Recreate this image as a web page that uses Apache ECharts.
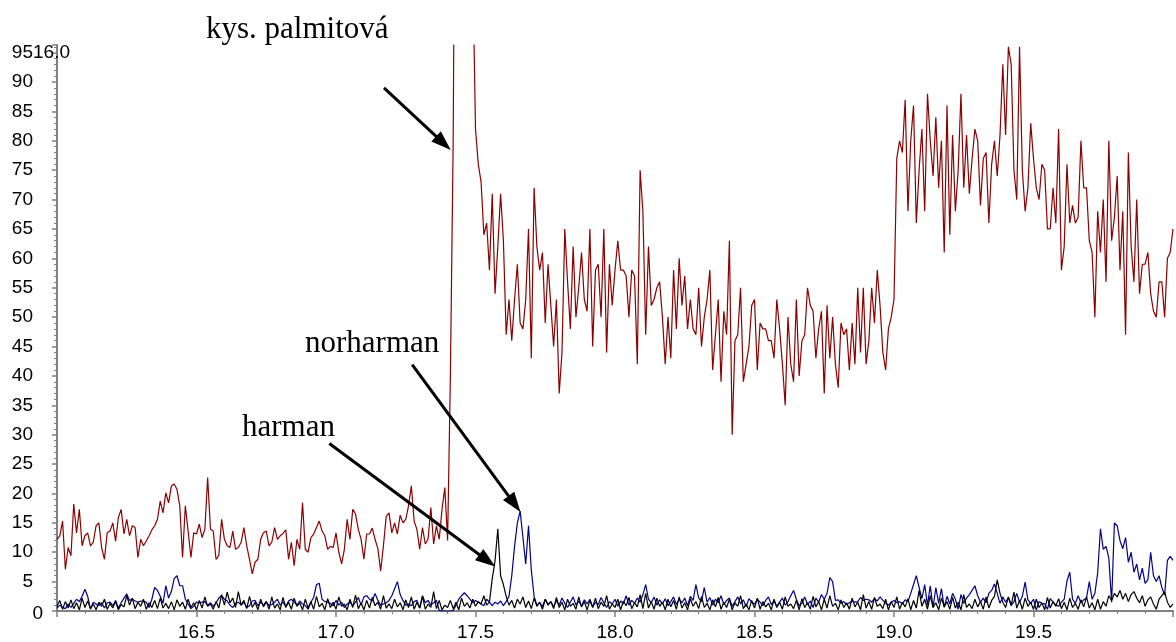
<!DOCTYPE html>
<html>
<head>
<meta charset="utf-8">
<title>chromatogram</title>
<script src="https://cdn.jsdelivr.net/npm/echarts/dist/echarts.min.js"></script>
<style>
  html, body { margin: 0; padding: 0; background: #fff; }
  #chart { width: 1176px; height: 642px; }
</style>
</head>
<body>
<div id="chart"></div>
<script>
// retention time (min) of the first sample and sampling step
const startTime = 16.0;
const stepTime = 0.01;

// kys. palmitova trace (dark red)
const palmitic = [
  12.2,12.8,15.3,7.1,10.8,9.4,18.2,13.3,17.3,11.1,
  12.8,13.3,11.1,11.7,14.5,15.0,10.8,8.8,13.3,13.6,
  15.0,11.9,15.9,17.3,13.1,15.6,12.8,14.5,14.2,9.1,
  12.2,11.1,11.9,12.8,13.8,14.5,15.6,18.7,16.7,20.1,
  18.4,21.3,21.6,20.7,17.9,9.1,17.9,13.6,9.1,13.3,
  13.1,14.8,12.5,13.9,22.7,13.9,13.6,8.8,9.4,15.6,
  12.2,11.1,10.8,13.6,10.5,10.8,11.7,14.2,11.1,8.8,
  6.3,8.3,8.8,12.2,13.3,13.6,11.1,11.7,14.2,12.2,
  12.8,13.2,13.8,8.8,11.7,7.7,12.2,10.5,18.4,10.5,
  10.0,12.5,13.1,14.2,15.3,13.6,12.8,10.5,11.0,10.8,
  13.3,10.0,8.0,10.5,15.6,12.2,17.3,16.5,13.9,12.2,
  8.8,13.1,13.1,14.1,12.2,10.6,6.8,11.1,16.1,16.7,
  13.3,15.0,13.1,16.3,15.0,15.6,17.9,21.3,15.3,13.9,
  10.5,14.2,11.4,12.2,17.6,11.4,14.5,12.2,17.3,21.0,
  12.0,40,80,160,400,700,650,500,300,110,
  82,76,73,64,66,58,71,54,62,71,
  63,47,53,46,53,59,49,48,53,65,
  43,72,62,58,61,49,59,52,45,53,
  37,44,65,56,48,62,50,55,61,53,
  51,65,45,58,59,50,65,44,59,52,
  58,63,58,58,57,50,58,57,42,75,
  68,47,62,52,53,55,56,50,42,50,
  43,58,48,60,52,57,48,53,48,47,
  55,45,50,53,58,41,47,53,39,51,
  47,63,30,46,47,55,39,42,45,52,
  53,41,49,48,48,46,46,43,53,48,
  42,35,50,42,39,53,40,46,47,55,
  52,51,43,48,51,37,52,43,50,42,
  38,49,47,48,41,49,42,55,44,55,
  42,46,55,49,58,52,44,41,48,50,
  53,77,80,78,87,68,80,86,66,75,
  82,68,88,80,74,84,72,80,61,86,
  64,81,68,75,88,72,81,71,77,82,
  80,69,77,78,66,76,80,74,81,93,
  81,96,93,75,70,96,75,68,72,83,
  77,72,70,76,75,65,65,72,66,82,
  58,62,76,66,69,66,67,80,72,72,
  63,61,50,68,61,70,56,80,63,67,
  74,58,68,47,78,62,56,70,54,59,
  59,61,54,51,50,56,56,50,60,61,65
];

// norharman trace (navy)
const norharman = [
  0.5,1.0,0.6,0.4,1.2,0.6,1.3,2.0,1.6,2.5,
  3.7,2.5,0.3,1.5,1.2,0.9,1.4,0.5,1.4,1.5,
  0.9,1.8,0.5,1.4,2.2,2.9,1.8,2.0,1.7,1.5,
  1.7,1.6,1.5,0.6,2.0,4.0,3.5,2.5,1.3,4.3,
  2.2,3.3,5.5,6.0,4.3,4.3,2.0,1.2,0.4,0.8,
  1.5,1.4,1.5,1.6,0.9,1.4,0.8,1.4,2.2,2.6,
  2.0,1.7,1.0,0.6,1.3,1.5,1.0,1.5,0.6,0.9,
  1.7,1.8,0.9,1.5,1.0,1.6,0.9,1.1,1.5,2.0,
  1.0,1.5,0.8,1.7,2.0,1.5,1.0,1.7,1.2,0.9,
  0.3,1.5,2.3,4.5,4.7,2.0,1.6,1.5,1.3,0.9,
  1.8,1.0,1.5,0.6,1.2,1.5,0.9,1.5,2.3,1.0,
  2.4,2.6,2.0,1.7,3.0,1.8,1.0,1.2,1.4,1.8,
  2.6,3.8,5.0,2.8,1.8,1.0,1.2,0.9,1.6,1.8,
  0.5,2.6,1.4,1.8,1.0,1.4,1.8,0.1,0,0,
  0,0,0.1,1.0,2.0,2.6,3.1,2.6,2.0,1.4,
  1.8,1.5,1.2,0.9,2.0,1.5,0.9,1.5,1.2,1.7,
  0.9,1.6,2.5,6,11,15,17,12.5,8,14.5,
  7,2.5,1.0,1.4,0.8,2.0,1.1,1.6,0.7,1.8,
  1.0,2.2,1.3,0.6,1.5,2.4,1.0,1.7,0.8,1.9,
  1.2,2.0,0.7,1.5,1.1,2.3,1.4,0.6,1.6,1.2,
  2.0,0.8,1.7,1.2,2.6,1.0,1.8,1.3,2.2,1.5,
  2.8,4.5,2.0,1.4,2.4,1.0,1.9,1.2,2.1,0.9,
  1.6,2.4,1.1,2.0,1.4,2.2,0.9,2.5,1.8,4.5,
  2.2,1.6,4.0,1.5,2.3,1.0,2.0,1.4,2.6,1.1,
  1.8,2.2,0.8,1.6,2.4,1.2,1.9,0.7,2.1,1.5,
  1.2,2.0,1.5,0.9,1.8,2.4,1.1,1.7,0.8,1.5,
  2.2,1.0,1.6,2.6,3.5,2.0,0.9,1.3,2.4,1.1,
  1.7,0.6,2.2,1.5,2.8,2.0,3.0,5.7,5.0,1.8,
  1.9,1.3,1.6,1.1,1.4,1.7,1.5,1.6,2.3,1.8,
  2.0,1.9,1.5,2.1,1.7,2.4,1.8,1.3,1.0,1.5,
  1.8,1.4,1.6,1.2,1.9,1.6,3.0,4.5,6.0,4.0,
  2.1,4.5,1.0,4.3,0.6,4.0,1.3,3.8,0.6,2.5,
  1.2,3.0,2.0,0.3,2.8,1.3,2.2,2.8,3.5,4.3,
  2.6,1.5,2.2,1.4,3.0,3.5,4.6,3.0,1.3,2.4,
  1.5,2.3,0.9,1.6,3.0,1.5,2.5,4.9,1.9,1.3,
  2.0,0.2,1.6,1.3,1.2,0.3,2.1,1.5,1.0,0.8,
  1.5,2.0,5.1,6.6,2.0,1.3,2.6,1.4,1.9,2.2,
  5.0,2.0,3.0,6.5,14.0,10.5,11.0,9.0,1.5,15.0,
  14.5,12.0,10.6,12.5,8.3,10.0,6.6,8.0,5.3,7.3,
  4.7,5.3,10.0,6.0,5.0,6.0,4.0,2.7,8.6,9.3,8.6
];

// harman trace (black)
const harman = [
  0.8,1.8,0.3,1.6,0.5,1.9,0.4,1.4,0.2,2.2,
  0.6,1.7,0.4,1.2,0.2,1.5,0.8,2.0,0.3,1.3,
  0.5,1.6,0.2,1.1,0.7,2.6,1.0,2.2,0.4,1.5,
  0.8,2.0,0.3,1.4,0.6,1.8,0.4,2.2,0.5,1.3,
  0.4,1.6,0.2,1.9,0.8,1.5,0.3,2.0,0.6,1.4,
  0.2,1.8,0.5,2.4,0.8,1.2,0.3,1.6,0.5,2.8,
  1.0,3.2,1.4,2.2,0.6,3.3,1.0,1.8,0.4,2.5,
  0.6,1.5,0.2,2.0,0.7,1.6,0.3,2.4,0.5,1.2,
  0.2,2.3,0.6,1.5,0.3,2.2,0.8,1.4,0.2,2.0,
  0.5,1.6,0.3,2.5,0.7,1.3,0.2,2.1,0.6,1.5,
  0.3,2.4,0.8,1.2,0.2,2.0,0.6,2.7,0.4,1.4,
  0.2,1.8,0.5,2.3,0.9,1.5,0.3,2.6,0.5,1.2,
  0.4,2.0,0.7,1.4,0.2,1.9,0.6,2.4,0.3,1.5,
  0.5,2.5,0.3,1.2,0.6,3.3,0.4,1.8,0.2,1.0,
  0.6,1.8,0.4,1.5,0.2,2.2,0.8,1.4,0.5,2.0,
  0.8,1.6,1.2,2.6,1.0,1.5,5.5,8.5,14.0,6.0,
  4.5,2.5,1.0,1.8,0.5,2.0,1.2,2.4,0.6,1.7,
  0.4,2.2,0.8,1.5,0.3,2.0,1.0,1.6,0.4,2.3,
  0.6,1.5,0.2,2.0,0.8,1.3,0.3,2.4,0.7,1.6,
  0.2,1.8,0.6,2.2,0.4,1.5,0.8,2.6,0.3,1.2,
  0.6,2.0,0.2,1.7,0.9,2.3,0.4,1.4,0.7,2.8,
  0.4,3.0,0.5,1.6,0.3,2.2,0.8,1.5,0.2,2.0,
  0.7,1.8,0.3,2.4,0.5,1.4,0.2,2.1,0.8,1.6,
  0.4,2.5,0.6,1.3,0.2,1.9,0.7,2.3,0.3,1.5,
  0.6,2.0,0.2,1.4,0.8,2.6,0.4,1.2,0.2,1.8,
  0.5,2.2,0.3,1.6,0.7,1.3,0.2,2.0,0.6,1.5,
  0.3,2.4,0.8,1.2,0.4,1.8,0.2,2.1,0.6,1.4,
  0.3,2.5,0.7,1.6,0.2,2.0,0.5,2.6,0.8,1.3,
  0.2,1.9,0.6,1.4,0.3,2.2,0.7,1.5,0.2,2.8,
  0.5,1.6,0.3,2.3,0.8,1.2,0.4,2.0,0.2,1.6,
  0.6,2.4,0.3,1.5,0.7,2.1,0.2,1.8,0.5,3.5,
  0.8,2.0,0.3,2.6,0.6,1.4,0.2,2.2,0.7,1.6,
  0.3,2.3,0.5,1.5,0.2,2.8,0.6,1.2,0.4,2.0,
  0.7,1.6,0.3,2.4,0.5,1.8,2.5,5.3,3.0,1.5,
  0.6,2.4,1.0,3.2,0.5,1.8,0.3,2.2,0.8,1.5,
  0.3,2.0,0.6,1.4,0.2,2.3,0.5,1.6,0.8,2.1,
  0.4,1.5,0.2,2.2,0.6,1.3,0.3,1.9,0.7,2.4,
  0.5,1.4,0.2,2.0,0.3,1.6,0.8,2.6,1.8,3.0,
  2.4,3.5,2.0,3.0,1.6,2.8,3.3,2.2,1.4,2.6,
  0.8,1.9,2.4,1.2,0.3,2.0,2.6,3.2,1.5,0.6,1.2
];

// annotation arrows: [startTime, startValue, endTime, endValue]
const arrows = [
  [17.172, 89.0, 17.385, 79.6],
  [17.273, 41.9, 17.640, 18.2],
  [16.976, 28.5, 17.542, 8.6]
];

function toPairs(values) {
  return values.map((v, i) => [+(startTime + i * stepTime).toFixed(2), v]);
}

const chart = echarts.init(document.getElementById('chart'));
const axisGrey = '#808080';
const sans = '"Liberation Sans", Arial, sans-serif';
const serif = '"Liberation Serif", "Times New Roman", serif';

chart.setOption({
  animation: false,
  backgroundColor: '#ffffff',
  grid: { left: 57, right: 0, top: 45, bottom: 30 },
  xAxis: {
    type: 'value',
    min: 16,
    max: 20,
    interval: 0.5,
    axisLine: { show: true, onZero: false, lineStyle: { color: axisGrey, width: 2 } },
    axisTick: { show: true, length: 6, lineStyle: { color: axisGrey, width: 1.5 } },
    minorTick: { show: true, splitNumber: 5, length: 3, lineStyle: { color: axisGrey, width: 1 } },
    splitLine: { show: false },
    minorSplitLine: { show: false },
    axisLabel: {
      color: '#000',
      fontFamily: sans,
      fontSize: 19,
      margin: 12,
      formatter: function (v) {
        const r = Math.round(v * 10) / 10;
        return (r > 16 && r < 20) ? r.toFixed(1) : '';
      }
    }
  },
  yAxis: {
    type: 'value',
    min: 0,
    max: 96.3,
    interval: 5,
    axisLine: { show: true, lineStyle: { color: axisGrey, width: 2 } },
    axisTick: { show: true, length: 5, lineStyle: { color: axisGrey, width: 1.5 } },
    minorTick: { show: true, splitNumber: 5, length: 3, lineStyle: { color: axisGrey, width: 1 } },
    splitLine: { show: false },
    minorSplitLine: { show: false },
    axisLabel: {
      color: '#000',
      fontFamily: sans,
      fontSize: 19,
      margin: 24,
      formatter: function (v) {
        const r = Math.round(v);
        return (r > 0 && Math.abs(v - r) < 1e-6 && r % 5 === 0) ? String(r) : '';
      }
    }
  },
  series: [
    {
      name: 'kys. palmitová',
      type: 'line',
      data: toPairs(palmitic),
      showSymbol: false,
      symbol: 'none',
      clip: true,
      lineStyle: { color: '#8b0000', width: 1.2 }
    },
    {
      name: 'norharman',
      type: 'line',
      data: toPairs(norharman),
      showSymbol: false,
      symbol: 'none',
      clip: true,
      lineStyle: { color: '#00008b', width: 1.2 }
    },
    {
      name: 'harman',
      type: 'line',
      data: toPairs(harman),
      showSymbol: false,
      symbol: 'none',
      clip: true,
      lineStyle: { color: '#000000', width: 1.2 },
      markLine: {
        silent: true,
        animation: false,
        symbol: ['none', 'triangle'],
        symbolSize: 16,
        label: { show: false },
        lineStyle: { color: '#000', width: 3, type: 'solid' },
        itemStyle: { color: '#000' },
        emphasis: { disabled: true },
        data: arrows.map(a => [
          { coord: [a[0], a[1]], symbol: 'none' },
          { coord: [a[2], a[3]], symbol: 'triangle', symbolSize: [14, 20] }
        ])
      }
    }
  ],
  graphic: [
    { type: 'text', x: 206, y: 29.5, style: { text: 'kys. palmitová', font: '31px ' + serif, fill: '#000', textAlign: 'left', textVerticalAlign: 'middle', align: 'left', verticalAlign: 'middle' } },
    { type: 'text', x: 305, y: 343.5, style: { text: 'norharman', font: '31px ' + serif, fill: '#000', textAlign: 'left', textVerticalAlign: 'middle', align: 'left', verticalAlign: 'middle' } },
    { type: 'text', x: 242, y: 427.5, style: { text: 'harman', font: '31px ' + serif, fill: '#000', textAlign: 'left', textVerticalAlign: 'middle', align: 'left', verticalAlign: 'middle' } },
    { type: 'text', x: 33, y: 53, z: 10, style: { text: '16.0', font: '19px ' + sans, fill: '#000', textAlign: 'left', textVerticalAlign: 'middle', align: 'left', verticalAlign: 'middle' } },
    { type: 'text', x: 43, y: 614, style: { text: '0', font: '19px ' + sans, fill: '#000', textAlign: 'right', textVerticalAlign: 'middle', align: 'right', verticalAlign: 'middle' } }
  ]
});
</script>
</body>
</html>
